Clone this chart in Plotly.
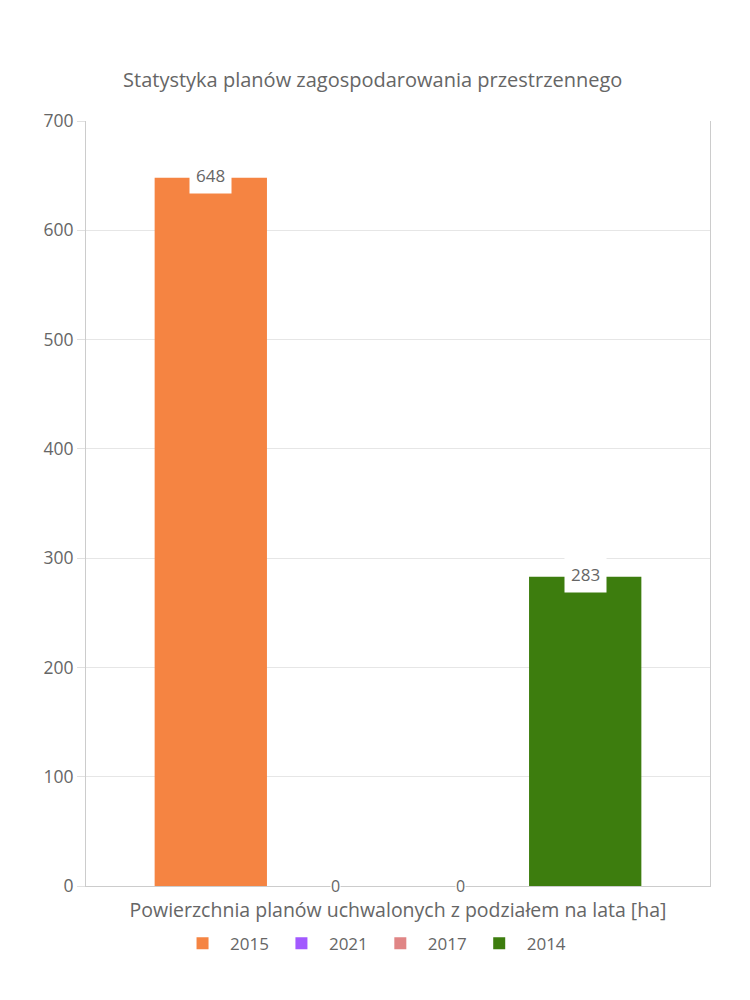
import plotly.graph_objects as go

title = "Statystyka planów zagospodarowania przestrzennego"
x_title = "Powierzchnia planów uchwalonych z podziałem na lata [ha]"
series_names = ["2015", "2021", "2017", "2014"]
series_values = [648, 0, 0, 283]
series_colors = ["#F58442", "#A259FF", "#E08585", "#3D7D0E"]
category = ["Powierzchnia"]
y_ticks = [0, 100, 200, 300, 400, 500, 600, 700]

FONT = "Open Sans, sans-serif"
TXT = "#666666"

fig = go.Figure()
for name, val, col in zip(series_names, series_values, series_colors):
    fig.add_trace(go.Bar(
        name=name, x=category, y=[val], marker=dict(color=col, line=dict(width=0)),
        hoverinfo="y+name",
    ))

# value labels with white boxes, one per bar slot
n = len(series_names)
plot_w = 750 - 86 - 40
slot = plot_w * (1 - 0.2) / n
for i, val in enumerate(series_values):
    fig.add_annotation(
        x=category[0], y=val, xref="x", yref="y",
        text=str(val), showarrow=False,
        xshift=(i - (n - 1) / 2) * slot,
        yshift=2 if val > 0 else 0,
        yanchor="middle",
        bgcolor="white", borderpad=6 if val > 0 else 0,
        font=dict(family=FONT, size=17 if val > 0 else 16, color=TXT),
    )

fig.update_layout(
    width=750, height=1000,
    margin=dict(l=86, r=40, t=121, b=114),
    paper_bgcolor="white", plot_bgcolor="white",
    barmode="group", bargap=0.2, bargroupgap=0.1,
    title=dict(text=title, x=0.497, xref="container", xanchor="center", y=0.92, yanchor="middle",
               font=dict(family=FONT, size=20, color=TXT)),
    font=dict(family=FONT, color=TXT),
    showlegend=True,
    legend=dict(orientation="h", x=0.46, xanchor="center", y=-0.052, yanchor="top",
                font=dict(family=FONT, size=17, color=TXT), itemwidth=45),
    xaxis=dict(showticklabels=False, showline=True, linecolor="#cccccc", linewidth=1,
               mirror=False, showgrid=False, zeroline=False,
               title=dict(text=x_title, standoff=17, font=dict(family=FONT, size=19.5, color=TXT))),
    yaxis=dict(range=[0, 700], tickvals=y_ticks, showline=True, linecolor="#cccccc", linewidth=1,
               mirror=True, showgrid=True, gridcolor="#e6e6e6", zeroline=False,
               ticks="outside", ticklen=8, tickcolor="#e0e0e0",
               tickfont=dict(family=FONT, size=17.5, color=TXT)),
)

fig.write_html("out.html")
